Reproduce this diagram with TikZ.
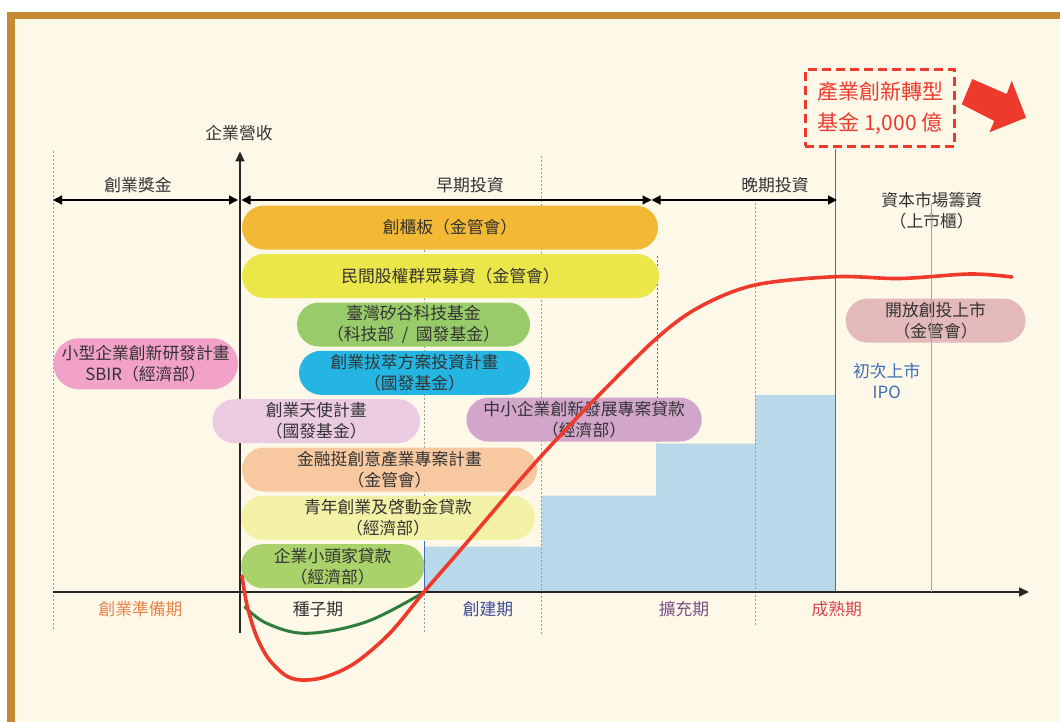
\documentclass[tikz,border=0pt]{standalone}
\usepackage{fontspec}
\setmainfont{Noto Sans CJK TC}
\usetikzlibrary{arrows.meta}
\definecolor{framec}{HTML}{C68A30}
\definecolor{bgc}{HTML}{FEF8E8}
\definecolor{txtc}{HTML}{333333}
\definecolor{dotc}{HTML}{9A9A9A}
\definecolor{areac}{HTML}{B9D8EA}
\definecolor{bluel}{HTML}{3D6FB6}
\definecolor{grayl}{HTML}{A6A6A6}
\definecolor{redc}{HTML}{EE3A2C}
\definecolor{greenc}{HTML}{2E7D3C}
\definecolor{cA}{HTML}{F4B934}
\definecolor{cB}{HTML}{EBE74A}
\definecolor{cC}{HTML}{98CB6A}
\definecolor{cD}{HTML}{25B5E2}
\definecolor{cE}{HTML}{EACBE2}
\definecolor{cF}{HTML}{D2A6CB}
\definecolor{cG}{HTML}{F8C9A0}
\definecolor{cH}{HTML}{F3F1A5}
\definecolor{cI}{HTML}{AAD26A}
\definecolor{cJ}{HTML}{F2A1C8}
\definecolor{cK}{HTML}{E3B9BA}
\definecolor{orangec}{HTML}{E8834A}
\definecolor{navyc}{HTML}{3F4C9C}
\definecolor{purplec}{HTML}{7A4E86}
\definecolor{matc}{HTML}{D9454A}
\tikzset{
  pill/.style={rectangle, rounded corners=22pt, minimum height=44pt, inner sep=0pt,
    align=center, text=txtc, font=\fontsize{16.8}{21}\selectfont},
  lbl/.style={inner sep=0pt, align=center, text=txtc, font=\fontsize{16.8}{21}\selectfont},
  vdot/.style={draw=dotc, line width=0.9pt, dash pattern=on 2pt off 2pt},
  bdot/.style={draw=bluel, line width=0.9pt, dash pattern=on 2pt off 2pt},
  dblarrow/.style={draw=black, line width=1.3pt,
    {Triangle[length=9pt,width=9pt]}-{Triangle[length=9pt,width=9pt]}},
  axisarrow/.style={draw=black!85, line width=2pt, -{Triangle[length=10pt,width=9pt]}},
}
\begin{document}
\begin{tikzpicture}[x=1pt,y=-1pt]
% background and frame
\fill[white] (0,0) rectangle (1060,722);
\fill[framec] (7,12) rectangle (1060,722);
\fill[bgc] (15,19.5) rectangle (1060,722);
\useasboundingbox (0,0) rectangle (1060,722);

% blue staircase area
\fill[areac] (424,592) -- (424,546.7) -- (541.7,546.7) -- (541.7,495.7) -- (656,495.7)
  -- (656,443.5) -- (755,443.5) -- (755,395) -- (835,395) -- (835,592) -- cycle;

% vertical guide lines
\coordinate (v1t) at (53,151);   \coordinate (v1b) at (53,630);
\coordinate (v2t) at (424,230);  \coordinate (v2b) at (424,632);
\coordinate (v3t) at (541.7,156); \coordinate (v3b) at (541.7,636);
\coordinate (v4t) at (657.7,256); \coordinate (v4b) at (657.7,444);
\coordinate (v5t) at (755,199);  \coordinate (v5b) at (755,625);
\coordinate (v6t) at (835.3,149); \coordinate (v6b) at (835.3,592);
\coordinate (v7t) at (931.7,203); \coordinate (v7b) at (931.7,592);
\coordinate (v2m) at (424,541);  \coordinate (v2x) at (424,592);
\draw[vdot] (v1t) -- (v1b);
\draw[vdot] (v2t) -- (v2b);
\draw[vdot] (v3t) -- (v3b);
\draw[bdot] (v4t) -- (v4b);
\draw[vdot] (v5t) -- (v5b);
\draw[bluel, line width=1pt] (v6t) -- (v6b);
\draw[bluel, line width=1pt] (v2m) -- (v2x);

% axes
\coordinate (yb) at (240,632.5); \coordinate (yt) at (240,151.5);
\coordinate (xl) at (53,592);    \coordinate (xr) at (1029,592);
\draw[axisarrow] (xl) -- (xr);
\draw[axisarrow] (yb) -- (yt);
\node[lbl] (ylab) at (239,133) {企業營收};

% phase arrows
\coordinate (a1) at (53,200);  \coordinate (a2) at (238,200);
\coordinate (a3) at (241.5,200); \coordinate (a4) at (651.5,200);
\coordinate (a5) at (651.5,200); \coordinate (a6) at (837,200);
\draw[dblarrow] (a1) -- (a2);
\draw[dblarrow] (a3) -- (a4);
\draw[dblarrow] (a5) -- (a6);
\node[lbl] (l1) at (138,185) {創業獎金};
\node[lbl] (l2) at (470,185.5) {早期投資};
\node[lbl] (l3) at (775,185.5) {晚期投資};
\node[lbl] (l4) at (931.7,211) {資本市場籌資\\（上市櫃）};

% program boxes
\node[pill, fill=cA, minimum width=416pt] (b1) at (450,227.6) {創櫃板（金管會）};
\node[pill, fill=cB, minimum width=417pt] (b2) at (450.5,276) {民間股權群眾募資（金管會）};
\node[pill, fill=cC, minimum width=233pt] (b3) at (413.5,324.5) {臺灣矽谷科技基金\\（科技部\hspace{0.45em}/\hspace{0.45em}國發基金）};
\node[pill, fill=cD, minimum width=231pt] (b4) at (414.5,372.8) {創業拔萃方案投資計畫\\（國發基金）};
\node[pill, fill=cJ, minimum width=184.6pt, minimum height=51pt, rounded corners=25.5pt] (b5) at (145.7,363.8) {小型企業創新研發計畫\\SBIR（經濟部）};
\node[pill, fill=cE, minimum width=207.5pt] (b6) at (316.2,421.2) {創業天使計畫\\（國發基金）};
\node[pill, fill=cF, minimum width=235.3pt] (b7) at (584.1,419.6) {中小企業創新發展專案貸款\\（經濟部）};
\node[pill, fill=cG, minimum width=295pt] (b8) at (389.5,469.5) {金融挺創意產業專案計畫\\（金管會）};
\node[pill, fill=cH, minimum width=294pt] (b9) at (388,517.8) {青年創業及啓動金貸款\\（經濟部）};
\node[pill, fill=cI, minimum width=183.3pt] (b10) at (332.7,566.2) {企業小頭家貸款\\（經濟部）};
\node[pill, fill=cK, minimum width=179.8pt] (b11) at (935.6,320.6) {開放創投上市\\（金管會）};

% capital market line (over box)
\draw[grayl, line width=1.2pt] (v7t) -- (v7b);

% IPO label
\node[lbl, text=bluel] (ipo) at (886.7,381) {初次上市\\IPO};

% stage labels
\node[lbl, text=orangec] (s1) at (140.5,609.5) {創業準備期};
\node[lbl] (s2) at (318,609.5) {種子期};
\node[lbl, text=navyc] (s3) at (488,609.5) {創建期};
\node[lbl, text=purplec] (s4) at (684,609.5) {擴充期};
\node[lbl, text=matc] (s5) at (836.8,609.5) {成熟期};

% curves
\draw[greenc, line width=3pt, line cap=round] plot[smooth, tension=0.6] coordinates
  {(245,607) (266.7,623.3) (306.7,633.3) (366.7,621.7) (424.3,592)};
\draw[redc, line width=3.6pt, line cap=round] plot[smooth, tension=0.55] coordinates
  {(242,576) (247,605) (256,635) (268,658) (285,675) (301,680) (325,677) (355,663)
   (390,633) (424,592) (463,547) (520,480) (556,440) (600,394) (657.7,337.3) (700,306.7)
   (755,285) (835.3,276.7) (900,278.5) (970,274) (1012,277)};

% fund box and arrow
\node[draw=redc, line width=3pt, dash pattern=on 9pt off 5pt, minimum width=149.5pt,
  minimum height=76.7pt, inner sep=0pt, align=center, text=redc,
  font=\fontsize{21}{31}\selectfont] (fund) at (880,107.7) {產業創新轉型\\基金 1,000 億};
\fill[redc] (972.3,79) -- (1006.7,94) -- (1011.7,80.7) -- (1026,117.7) -- (989.3,132.3)
  -- (994.3,121) -- (961.7,104.3) -- cycle;
\end{tikzpicture}
\end{document}
